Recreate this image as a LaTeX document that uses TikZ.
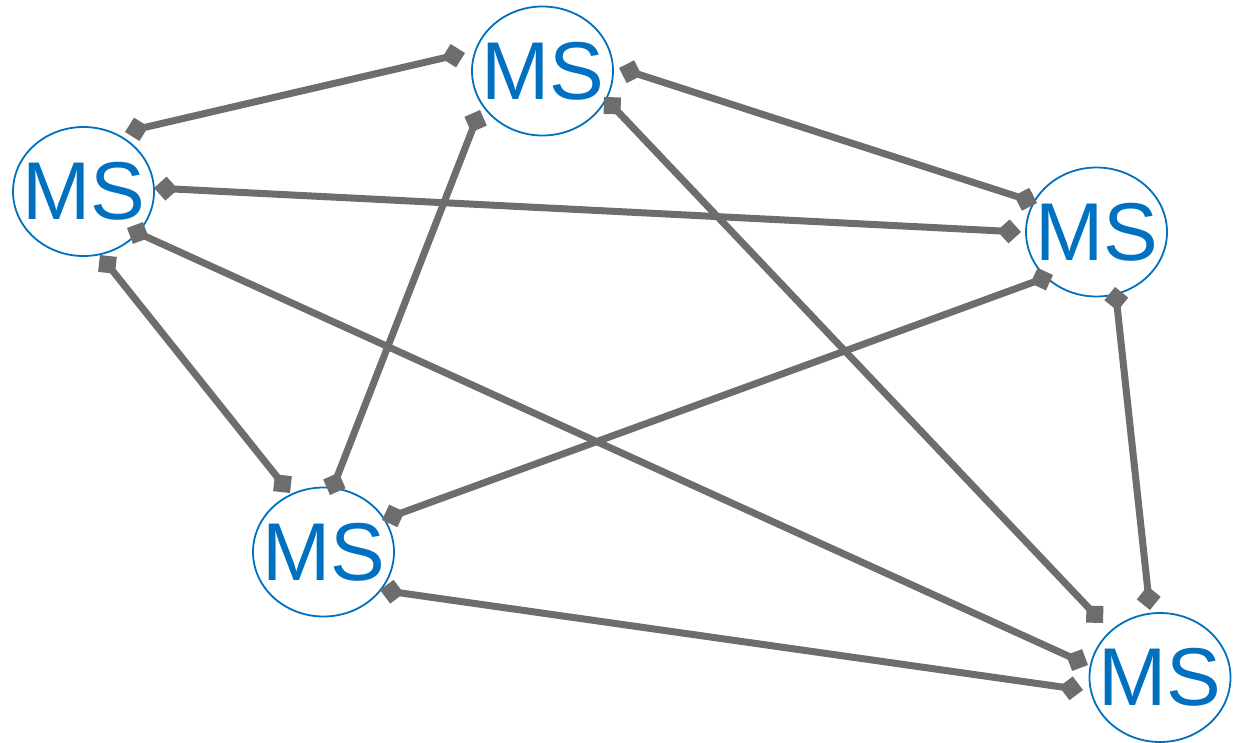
\documentclass[tikz,border=0pt]{standalone}
\usepackage{fontspec}
\setmainfont{Liberation Sans}
\usetikzlibrary{shapes.geometric,arrows.meta,calc}
\definecolor{msblue}{RGB}{0,112,192}
\definecolor{linkgray}{RGB}{109,109,109}
\tikzset{
  ms/.style={ellipse, draw=msblue, line width=1.8pt, fill=white,
    minimum width=141pt, minimum height=129pt,
    inner xsep=-20pt, inner ysep=0pt,
    text=msblue, font=\fontsize{82}{82}\selectfont},
  link/.style={draw=linkgray, line width=7pt,
    {Diamond[length=24pt,width=24pt]}-{Diamond[length=24pt,width=24pt]}}
}
\begin{document}
\begin{tikzpicture}[x=1pt,y=-1pt]
\useasboundingbox (0,0) rectangle (1239,742);
% servers
\node[ms] (T)  at (542.5,71)   {MS};
\node[ms] (L)  at (83.5,191.5) {MS};
\node[ms] (R)  at (1096.5,232) {MS};
\node[ms] (BL) at (323.5,552)  {MS};
\node[ms] (BR) at (1160,677.5) {MS};
% full mesh of links
\draw[link] ($(T)+(-77.5,-18)$) -- ($(L)+(41.5,-59.5)$);
\draw[link] ($(L)+(70.5,-3.5)$) -- ($(R)+(-75.5,0)$);
\draw[link] ($(T)+(76.5,-3)$) -- ($(R)+(-59.5,-29)$);
\draw[link] ($(T)+(61.5,26)$) -- ($(BR)+(-57,-54.5)$);
\draw[link] ($(T)+(-62.5,39)$) -- ($(BL)+(6.5,-57)$);
\draw[link] ($(L)+(16.5,63.5)$) -- ($(BL)+(-33.5,-59)$);
\draw[link] ($(L)+(43.5,36.5)$) -- ($(BR)+(-72,-12.5)$);
\draw[link] ($(R)+(-43.5,43)$) -- ($(BL)+(58.5,-32)$);
\draw[link] ($(R)+(18.5,55)$) -- ($(BR)+(-10,-67.5)$);
\draw[link] ($(BL)+(56.5,38)$) -- ($(BR)+(-77,12.5)$);
\end{tikzpicture}
\end{document}
